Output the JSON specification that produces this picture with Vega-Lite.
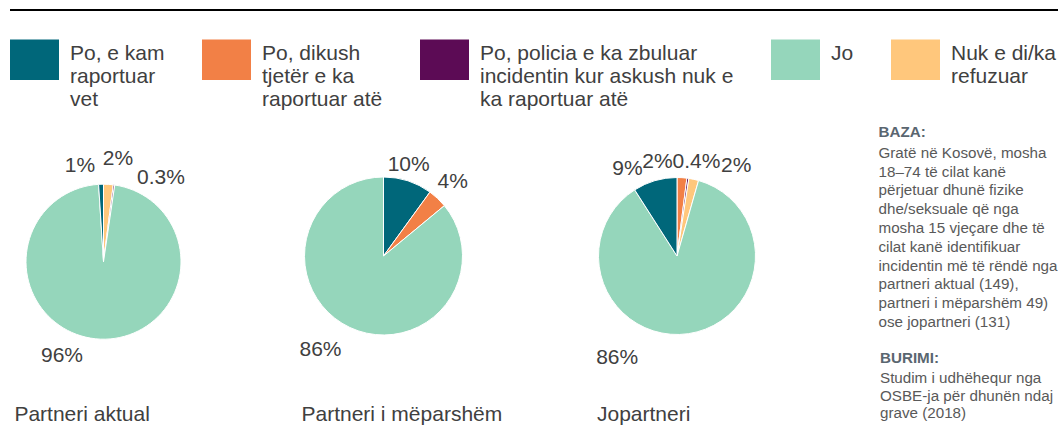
{
  "$schema": "https://vega.github.io/schema/vega-lite/v6.json",
  "padding": {"left": 9, "top": 9, "right": 0, "bottom": 0},
  "background": "white",
  "config": {
    "view": {"stroke": null},
    "font": "Liberation Sans",
    "legend": {
      "orient": "top",
      "direction": "horizontal",
      "title": null,
      "symbolType": "M-1,-0.83H1V0.83H-1Z",
      "symbolSize": 2401,
      "symbolStrokeWidth": 0,
      "symbolOpacity": 1,
      "labelFont": "Liberation Sans",
      "labelFontSize": 21,
      "labelColor": "#404040",
      "labelOffset": 11,
      "labelBaseline": "alphabetic",
      "labelLineHeight": 21.5,
      "labelLimit": 0,
      "columnPadding": 37,
      "offset": 15
    }
  },
  "datasets": {
    "pies": [
      {"p": "Partneri aktual", "cat": "Nuk e di/ka refuzuar", "value": 2, "lbl": "2%", "ord": 1},
      {"p": "Partneri aktual", "cat": "Po, policia e ka zbuluar incidentin kur askush nuk e ka raportuar atë", "value": 0.3, "lbl": "0.3%", "ord": 2},
      {"p": "Partneri aktual", "cat": "Jo", "value": 96, "lbl": "96%", "ord": 3},
      {"p": "Partneri aktual", "cat": "Po, e kam raportuar vet", "value": 1, "lbl": "1%", "ord": 4},
      {"p": "Partneri i mëparshëm", "cat": "Po, e kam raportuar vet", "value": 10, "lbl": "10%", "ord": 1},
      {"p": "Partneri i mëparshëm", "cat": "Po, dikush tjetër e ka raportuar atë", "value": 4, "lbl": "4%", "ord": 2},
      {"p": "Partneri i mëparshëm", "cat": "Jo", "value": 86, "lbl": "86%", "ord": 3},
      {"p": "Jopartneri", "cat": "Po, dikush tjetër e ka raportuar atë", "value": 2, "lbl": "2%", "ord": 1},
      {"p": "Jopartneri", "cat": "Po, policia e ka zbuluar incidentin kur askush nuk e ka raportuar atë", "value": 0.4, "lbl": "0.4%", "ord": 2},
      {"p": "Jopartneri", "cat": "Nuk e di/ka refuzuar", "value": 2, "lbl": "2%", "ord": 3},
      {"p": "Jopartneri", "cat": "Jo", "value": 86, "lbl": "86%", "ord": 4},
      {"p": "Jopartneri", "cat": "Po, e kam raportuar vet", "value": 9, "lbl": "9%", "ord": 5}
    ]
  },
  "resolve": {"scale": {"color": "independent"}, "legend": {"color": "independent"}},
  "spacing": 24,
  "vconcat": [
    {
      "width": 1049,
      "height": 2,
      "data": {"values": [{"v": 0}]},
      "mark": {"type": "rule", "color": "#000000", "strokeWidth": 2},
      "encoding": {"y": {"field": "v", "type": "quantitative", "axis": null}}
    },
    {
      "bounds": "flush",
      "spacing": 104.5,
      "hconcat": [
        {
          "width": 187,
          "height": 271.4,
          "data": {"name": "pies"},
          "transform": [{"filter": "datum.p === 'Partneri aktual'"}],
          "title": {"text": "Partneri aktual", "orient": "bottom", "anchor": "start", "frame": "group", "offset": 6.7, "dx": 4.4, "fontSize": 21, "fontWeight": "normal", "color": "#404040", "baseline": "top"},
          "encoding": {
            "theta": {"field": "value", "type": "quantitative", "stack": true},
            "order": {"field": "ord", "type": "quantitative"},
            "detail": {"field": "cat", "type": "nominal"}
          },
          "layer": [
            {
              "mark": {"type": "arc", "outerRadius": 77.5, "stroke": "#ffffff", "strokeWidth": 1},
              "encoding": {
                "color": {
                  "field": "cat", "type": "nominal",
                  "scale": {
                    "domain": ["Po, e kam raportuar vet", "Po, dikush tjetër e ka raportuar atë", "Po, policia e ka zbuluar incidentin kur askush nuk e ka raportuar atë", "Jo", "Nuk e di/ka refuzuar"],
                    "range": ["#00677a", "#f28046", "#5c0b55", "#95d6bb", "#ffc77c"]
                  },
                  "legend": {
                    "labelExpr": "datum.label === 'Po, e kam raportuar vet' ? ['Po, e kam', 'raportuar', 'vet'] : datum.label === 'Po, dikush tjetër e ka raportuar atë' ? ['Po, dikush', 'tjetër e ka', 'raportuar atë'] : datum.label === 'Po, policia e ka zbuluar incidentin kur askush nuk e ka raportuar atë' ? ['Po, policia e ka zbuluar', 'incidentin kur askush nuk e', 'ka raportuar atë'] : datum.label === 'Nuk e di/ka refuzuar' ? ['Nuk e di/ka', 'refuzuar', ''] : ['Jo', '', '']"
                  }
                }
              }
            },
            {"mark": {"type": "text", "radius": 100, "dx": -20.3, "dy": 4, "fontSize": 21, "color": "#404040"}, "encoding": {"text": {"condition": {"test": "datum.cat === 'Po, e kam raportuar vet'", "field": "lbl"}, "value": ""}}},
            {"mark": {"type": "text", "radius": 100, "dx": 8.2, "dy": -3.2, "fontSize": 21, "color": "#404040"}, "encoding": {"text": {"condition": {"test": "datum.cat === 'Nuk e di/ka refuzuar'", "field": "lbl"}, "value": ""}}},
            {"mark": {"type": "text", "radius": 100, "dx": 43.9, "dy": 15.6, "fontSize": 21, "color": "#404040"}, "encoding": {"text": {"condition": {"test": "datum.ord === 2", "field": "lbl"}, "value": ""}}},
            {"mark": {"type": "text", "radius": 100, "dx": -37.4, "dy": -5.9, "fontSize": 21, "color": "#404040"}, "encoding": {"text": {"condition": {"test": "datum.cat === 'Jo'", "field": "lbl"}, "value": ""}}}
          ]
        },
        {
          "width": 164,
          "height": 260,
          "data": {"name": "pies"},
          "transform": [{"filter": "datum.p === 'Partneri i mëparshëm'"}],
          "title": {"text": "Partneri i mëparshëm", "orient": "bottom", "anchor": "start", "frame": "group", "offset": 18, "dx": 0, "fontSize": 21, "fontWeight": "normal", "color": "#404040", "baseline": "top"},
          "encoding": {
            "theta": {"field": "value", "type": "quantitative", "stack": true},
            "order": {"field": "ord", "type": "quantitative"},
            "detail": {"field": "cat", "type": "nominal"}
          },
          "layer": [
            {
              "mark": {"type": "arc", "outerRadius": 79, "stroke": "#ffffff", "strokeWidth": 1},
              "encoding": {
                "color": {
                  "field": "cat", "type": "nominal",
                  "scale": {
                    "domain": ["Po, e kam raportuar vet", "Po, dikush tjetër e ka raportuar atë", "Po, policia e ka zbuluar incidentin kur askush nuk e ka raportuar atë", "Jo", "Nuk e di/ka refuzuar"],
                    "range": ["#00677a", "#f28046", "#5c0b55", "#95d6bb", "#ffc77c"]
                  },
                  "legend": {
                    "labelExpr": "datum.label === 'Po, e kam raportuar vet' ? ['Po, e kam', 'raportuar', 'vet'] : datum.label === 'Po, dikush tjetër e ka raportuar atë' ? ['Po, dikush', 'tjetër e ka', 'raportuar atë'] : datum.label === 'Po, policia e ka zbuluar incidentin kur askush nuk e ka raportuar atë' ? ['Po, policia e ka zbuluar', 'incidentin kur askush nuk e', 'ka raportuar atë'] : datum.label === 'Nuk e di/ka refuzuar' ? ['Nuk e di/ka', 'refuzuar', ''] : ['Jo', '', '']"
                  }
                }
              }
            },
            {"mark": {"type": "text", "radius": 100, "dx": -5.7, "dy": 4.5, "fontSize": 21, "color": "#404040"}, "encoding": {"text": {"condition": {"test": "datum.cat === 'Po, e kam raportuar vet'", "field": "lbl"}, "value": ""}}},
            {"mark": {"type": "text", "radius": 100, "dx": 0.7, "dy": -1.2, "fontSize": 21, "color": "#404040"}, "encoding": {"text": {"condition": {"test": "datum.cat === 'Po, dikush tjetër e ka raportuar atë'", "field": "lbl"}, "value": ""}}},
            {"mark": {"type": "text", "radius": 100, "dx": -20.4, "dy": 3.7, "fontSize": 21, "color": "#404040"}, "encoding": {"text": {"condition": {"test": "datum.cat === 'Jo'", "field": "lbl"}, "value": ""}}}
          ]
        },
        {
          "width": 214,
          "height": 260,
          "data": {"name": "pies"},
          "transform": [{"filter": "datum.p === 'Jopartneri'"}],
          "title": {"text": "Jopartneri", "orient": "bottom", "anchor": "start", "frame": "group", "offset": 18, "dx": 27, "fontSize": 21, "fontWeight": "normal", "color": "#404040", "baseline": "top"},
          "encoding": {
            "theta": {"field": "value", "type": "quantitative", "stack": true},
            "order": {"field": "ord", "type": "quantitative"},
            "detail": {"field": "cat", "type": "nominal"}
          },
          "layer": [
            {
              "mark": {"type": "arc", "outerRadius": 78.5, "stroke": "#ffffff", "strokeWidth": 1},
              "encoding": {
                "color": {
                  "field": "cat", "type": "nominal",
                  "scale": {
                    "domain": ["Po, e kam raportuar vet", "Po, dikush tjetër e ka raportuar atë", "Po, policia e ka zbuluar incidentin kur askush nuk e ka raportuar atë", "Jo", "Nuk e di/ka refuzuar"],
                    "range": ["#00677a", "#f28046", "#5c0b55", "#95d6bb", "#ffc77c"]
                  },
                  "legend": {
                    "labelExpr": "datum.label === 'Po, e kam raportuar vet' ? ['Po, e kam', 'raportuar', 'vet'] : datum.label === 'Po, dikush tjetër e ka raportuar atë' ? ['Po, dikush', 'tjetër e ka', 'raportuar atë'] : datum.label === 'Po, policia e ka zbuluar incidentin kur askush nuk e ka raportuar atë' ? ['Po, policia e ka zbuluar', 'incidentin kur askush nuk e', 'ka raportuar atë'] : datum.label === 'Nuk e di/ka refuzuar' ? ['Nuk e di/ka', 'refuzuar', ''] : ['Jo', '', '']"
                  }
                }
              }
            },
            {"mark": {"type": "text", "radius": 100, "dx": -21.4, "dy": 8.6, "fontSize": 21, "color": "#404040"}, "encoding": {"text": {"condition": {"test": "datum.cat === 'Po, e kam raportuar vet'", "field": "lbl"}, "value": ""}}},
            {"mark": {"type": "text", "radius": 100, "dx": -25.8, "dy": 6.1, "fontSize": 21, "color": "#404040"}, "encoding": {"text": {"condition": {"test": "datum.cat === 'Po, dikush tjetër e ka raportuar atë'", "field": "lbl"}, "value": ""}}},
            {"mark": {"type": "text", "radius": 100, "dx": 5.6, "dy": 5.3, "fontSize": 21, "color": "#404040"}, "encoding": {"text": {"condition": {"test": "datum.ord === 2", "field": "lbl"}, "value": ""}}},
            {"mark": {"type": "text", "radius": 100, "dx": 37.9, "dy": 7.8, "fontSize": 21, "color": "#404040"}, "encoding": {"text": {"condition": {"test": "datum.cat === 'Nuk e di/ka refuzuar'", "field": "lbl"}, "value": ""}}},
            {"mark": {"type": "text", "radius": 100, "dx": -74.3, "dy": 2.9, "fontSize": 21, "color": "#404040"}, "encoding": {"text": {"condition": {"test": "datum.cat === 'Jo'", "field": "lbl"}, "value": ""}}}
          ]
        },
        {
          "bounds": "flush",
          "spacing": 205.5,
          "vconcat": [
            {
              "width": 175,
              "height": 0,
              "data": {"values": [{}]},
              "mark": {"type": "text", "text": ""},
              "encoding": {},
              "title": {
                "text": "BAZA:",
                "subtitle": ["Gratë në Kosovë, mosha", "18–74 të cilat kanë", "përjetuar dhunë fizike", "dhe/seksuale që nga", "mosha 15 vjeçare dhe të", "cilat kanë identifikuar", "incidentin më të rëndë nga", "partneri aktual (149),", "partneri i mëparshëm 49)", "ose jopartneri (131)"],
                "orient": "bottom", "anchor": "start", "frame": "group", "offset": -20.8, "dx": -10,
                "fontSize": 15.2, "fontWeight": "bold", "color": "#5a6670", "baseline": "top",
                "subtitleFontSize": 15.2, "subtitleColor": "#595959", "subtitleFontWeight": "normal", "subtitleLineHeight": 18.8, "subtitlePadding": 5.5
              }
            },
            {
              "width": 175,
              "height": 0,
              "data": {"values": [{}]},
              "mark": {"type": "text", "text": ""},
              "encoding": {},
              "title": {
                "text": "BURIMI:",
                "subtitle": ["Studim i udhëhequr nga", "OSBE-ja për dhunën ndaj", "grave (2018)"],
                "orient": "bottom", "anchor": "start", "frame": "group", "offset": -20.8, "dx": -8.5,
                "fontSize": 15.2, "fontWeight": "bold", "color": "#5a6670", "baseline": "top",
                "subtitleFontSize": 15.2, "subtitleColor": "#595959", "subtitleFontWeight": "normal", "subtitleLineHeight": 17.5, "subtitlePadding": 5.5
              }
            }
          ]
        }
      ]
    }
  ]
}
